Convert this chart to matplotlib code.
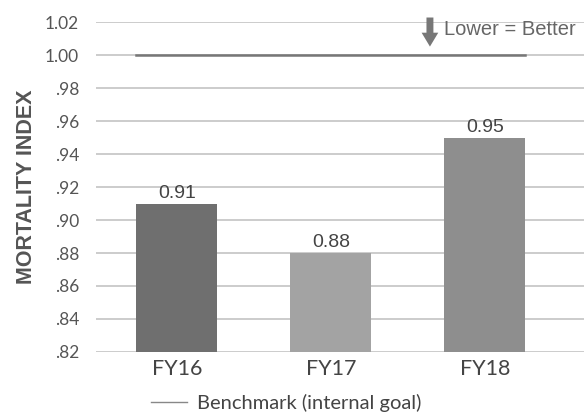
import matplotlib.pyplot as plt
from matplotlib.lines import Line2D

years = ["FY16", "FY17", "FY18"]
index_values = [0.91, 0.88, 0.95]
benchmark = 1.00
bar_colors = ["#6f6f6f", "#a3a3a3", "#8e8e8e"]
y_ticks = [0.82, 0.84, 0.86, 0.88, 0.90, 0.92, 0.94, 0.96, 0.98, 1.00, 1.02]
y_tick_labels = [".82", ".84", ".86", ".88", ".90", ".92", ".94", ".96", ".98", "1.00", "1.02"]


def main():
    fig = plt.figure(figsize=(5.84, 4.18), dpi=100)
    ax = fig.add_axes([0.164, 0.158, 0.836, 0.789])

    x = range(len(years))
    width = 0.525
    ax.bar(x, index_values, width=width, color=bar_colors, zorder=3)

    for xi, v in zip(x, index_values):
        ax.text(xi, v + 0.001, f"{v:.2f}", ha="center", va="bottom",
                fontsize=14, color="#444444", family="Liberation Sans", zorder=4)

    # benchmark spans from the first bar's left edge to the last bar's right edge
    ax.plot([-width / 2, len(years) - 1 + width / 2], [benchmark, benchmark],
            color="#777777", linewidth=1.8, zorder=2)

    ax.set_xlim(-0.526, 2.643)
    ax.set_ylim(0.82, 1.02)
    ax.set_yticks(y_ticks)
    ax.set_yticklabels(y_tick_labels, family="Lato", fontsize=12.5, color="#555555")
    ax.set_xticks(list(x))
    ax.set_xticklabels(years, family="Lato", fontsize=15.5, color="#444444")
    ax.tick_params(axis="y", length=0, pad=12)
    ax.tick_params(axis="x", length=0, pad=5)

    ax.grid(axis="y", color="#cccccc", linewidth=1.4, zorder=0)
    for s in ax.spines.values():
        s.set_visible(False)

    ax.set_ylabel("MORTALITY INDEX", fontsize=15.5, fontweight="bold",
                  color="#555555", family="Liberation Sans", labelpad=6)

    # "Lower = Better" note with a down arrow
    ax.annotate("", xy=(1.643, 1.0035), xytext=(1.643, 1.0245),
                arrowprops=dict(arrowstyle="simple,head_width=1.2,head_length=1.0,tail_width=0.5",
                                color="#777777", lw=0), annotation_clip=False, zorder=5)
    ax.text(1.735, 1.0155, "Lower = Better", fontsize=14.5, color="#666666",
            family="Liberation Sans", va="center", ha="left")

    handle = Line2D([], [], color="#888888", linewidth=1)
    fig.legend([handle], ["Benchmark (internal goal)"], loc="lower center",
               bbox_to_anchor=(0.49, -0.03), frameon=False, handlelength=1.75,
               handletextpad=0.5, prop={"family": "Lato", "size": 14.5},
               labelcolor="#444444")

    fig.savefig("out.png", dpi=100)


main()
